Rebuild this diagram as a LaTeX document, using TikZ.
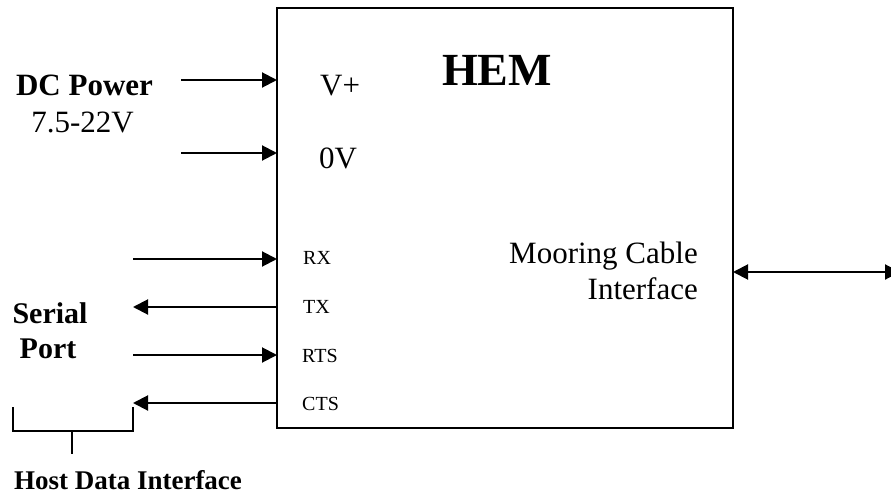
\documentclass[tikz,border=0pt]{standalone}
\usepackage{fontspec}
\setmainfont{Liberation Serif}
\usetikzlibrary{arrows.meta}
\begin{document}
\begin{tikzpicture}[x=1pt,y=-1pt,
  lbl/.style={inner sep=0pt,font=\fontsize{31}{36}\selectfont},
  blbl/.style={inner sep=0pt,font=\fontsize{31}{36}\selectfont\bfseries},
  pin/.style={inner sep=0pt,font=\fontsize{20}{24}\selectfont,anchor=base west},
  arr/.style={line width=2pt,-{Triangle[length=15pt,width=15pt]}},
  darr/.style={line width=2pt,{Triangle[length=15pt,width=15pt]}-{Triangle[length=15pt,width=15pt]}}]
\useasboundingbox (0,0) rectangle (891,495);
\node[draw,line width=2pt,minimum width=456pt,minimum height=420pt,anchor=north west,inner sep=0pt,outer sep=0pt] (box) at (277,8) {};
% titles
\node[inner sep=0pt,anchor=base,font=\fontsize{46}{50}\selectfont\bfseries] (hem) at (497,85) {HEM};
\node[blbl,anchor=base] (dc) at (84.5,95) {DC Power};
\node[lbl,anchor=base] (volt) at (82.5,132) {7.5-22V};
\node[lbl,anchor=base west] (vp) at (320,95) {V+};
\node[lbl,anchor=base west] (zv) at (319,168) {0V};
\node[pin] (rx) at (303,264) {RX};
\node[pin] (tx) at (303,313) {TX};
\node[pin] (rts) at (302,362) {RTS};
\node[pin] (cts) at (302,410) {CTS};
\node[inner sep=0pt,anchor=base,font=\fontsize{30}{35}\selectfont\bfseries] (serial) at (50,323) {Serial};
\node[inner sep=0pt,anchor=base,font=\fontsize{30}{35}\selectfont\bfseries] (port) at (48,358) {Port};
\node[lbl,anchor=base east] (moor) at (698,263) {Mooring Cable};
\node[lbl,anchor=base east] (intf) at (698,299) {Interface};
\node[inner sep=0pt,anchor=base,font=\fontsize{27}{30}\selectfont\bfseries] (host) at (128,489) {Host Data Interface};
% connector ends
\coordinate (s1) at (181,80);
\coordinate (s2) at (181,153);
\coordinate (s3) at (133,259);
\coordinate (s4) at (133,307);
\coordinate (s5) at (133,355);
\coordinate (s6) at (133,403);
\coordinate (s7) at (900,272);
\draw[arr] (s1) -- (s1 -| box.west);
\draw[arr] (s2) -- (s2 -| box.west);
\draw[arr] (s3) -- (s3 -| box.west);
\draw[arr] (s4 -| box.west) -- (s4);
\draw[arr] (s5) -- (s5 -| box.west);
\draw[arr] (s6 -| box.west) -- (s6);
\draw[darr] (s7 -| box.east) -- (s7);
% bracket
\coordinate (b1) at (13,407);
\coordinate (b2) at (133,407);
\coordinate (bm) at (72,431);
\coordinate (bs) at (72,454);
\draw[line width=1.5pt] (b1) -- (b1 |- bm) -- (b2 |- bm) -- (b2);
\draw[line width=1.5pt] (bm) -- (bs);
\end{tikzpicture}
\end{document}
